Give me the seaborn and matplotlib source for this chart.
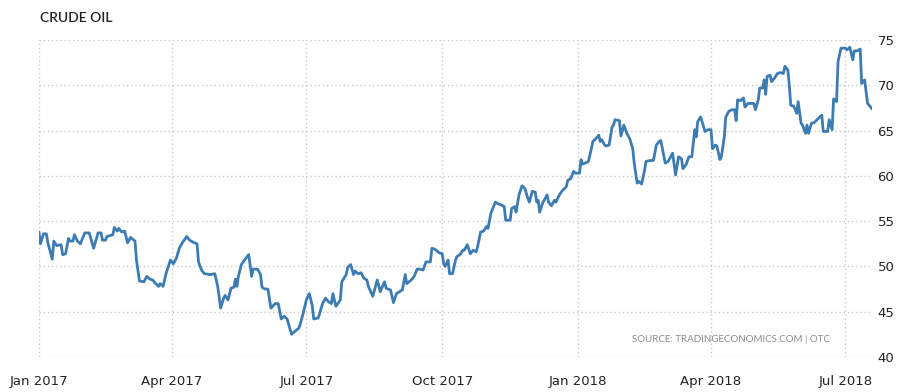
import numpy as np
import pandas as pd
import matplotlib
matplotlib.use("Agg")
import matplotlib.pyplot as plt
import seaborn as sns

# ---- data ----
start_date = "2017-01-01"
day_offsets = [
    0, 1, 3, 5, 6, 9, 10, 12, 15, 16, 18, 20, 21, 23, 24, 26, 28, 31, 34, 37,
    40, 42, 43, 45, 46, 50, 51, 53, 54, 56, 58, 60, 62, 65, 66, 68, 71, 73, 75, 77,
    79, 81, 82, 84, 86, 89, 91, 93, 95,
    97, 100, 102, 104, 107, 108, 110, 112, 116, 119, 121, 123, 125, 126, 128, 130, 132, 133, 134, 135,
    137, 140, 142, 144, 145, 148, 150, 151, 153, 155, 157, 160, 162, 164, 166, 168, 171, 173, 176, 177,
    179, 181, 183, 185, 186, 189, 190,
    192, 194, 196, 198, 199, 201, 204, 205, 208, 209, 211, 213, 214, 216, 218, 220, 222, 223, 226, 229,
    230, 231, 234, 235, 238, 239, 240, 242, 244, 246, 248, 249, 252, 254, 256, 258, 260, 262, 265, 266,
    268, 271, 273, 274, 275, 277, 278, 280, 282,
    283, 285, 287, 288, 290, 292, 294, 296, 297, 299, 301, 303, 304, 306, 309, 311, 313, 315, 316, 319,
    320, 322, 323, 325, 327, 329, 331, 332, 334, 336, 337, 338, 339, 341, 342, 344, 345, 347, 349, 350,
    352, 354, 357, 358, 360, 362, 363, 366, 367, 368, 371, 372, 374, 375,
    377, 379, 380, 381, 383, 384, 386, 388, 389, 390, 393, 394, 396, 398, 400, 402, 403, 405, 406, 408,
    410, 411, 414, 416, 418, 420, 421, 424, 426, 429, 431, 433, 435, 436, 438, 440, 442, 444, 445, 446,
    448, 450, 451, 453, 455, 456, 458, 459, 461, 462, 464, 465, 467, 469, 471, 472, 473,
    475, 477, 478, 480, 482, 484, 485, 487, 488, 490, 491, 492, 493, 495, 496, 498, 500, 502, 504, 505,
    507, 508, 509, 511, 513, 514, 516, 517, 519, 520, 521, 523, 525, 528, 530, 531, 534, 535, 537, 538,
    540, 541, 543, 546, 547, 549, 551, 552, 554, 556, 557, 558, 559, 561, 562, 564,
]
price = [
    53.8, 52.5, 53.6, 53.6, 52.6, 50.8, 52.8, 52.3, 52.4, 51.3, 51.4, 53.1, 52.8, 52.8, 53.5, 52.8, 52.5, 53.7, 53.7, 52.0,
    53.7, 53.7, 52.9, 52.9, 53.3, 53.5, 54.3, 53.9, 54.2, 53.8, 53.9, 52.6, 53.2, 52.8, 50.7, 48.4, 48.3, 48.9, 48.6, 48.5,
    48.1, 47.8, 48.1, 47.8, 49.2, 50.7, 50.3, 50.9, 52.0,
    52.6, 53.3, 52.9, 52.7, 52.5, 50.5, 49.6, 49.2, 49.1, 49.2, 47.8, 45.4, 46.5, 46.8, 46.3, 47.6, 47.7, 48.6, 47.8, 48.9,
    50.2, 50.9, 51.3, 48.9, 49.7, 49.7, 49.1, 47.7, 47.5, 47.5, 45.4, 45.9, 45.9, 44.2, 44.5, 44.2, 42.5, 42.8, 43.2, 43.7,
    44.9, 46.3, 47.0, 45.7, 44.2, 44.3, 44.8,
    45.9, 46.5, 46.1, 45.9, 47.0, 45.6, 46.3, 48.3, 49.1, 49.9, 50.2, 49.1, 49.5, 49.2, 49.3, 48.7, 48.5, 47.8, 46.7, 48.5,
    47.9, 47.2, 48.3, 47.6, 47.4, 46.7, 46.0, 47.0, 47.2, 47.4, 49.1, 48.1, 48.5, 48.9, 49.7, 49.7, 49.6, 50.5, 50.5, 52.0,
    51.9, 51.5, 51.4, 50.3, 50.0, 50.7, 49.2, 49.2, 50.7,
    51.1, 51.3, 51.8, 51.8, 52.4, 51.4, 51.8, 51.6, 52.2, 53.8, 53.9, 54.4, 54.2, 55.9, 57.1, 56.9, 56.8, 56.6, 55.1, 55.1,
    56.4, 56.6, 56.0, 57.9, 58.9, 58.6, 57.5, 57.1, 58.3, 58.2, 57.1, 57.3, 56.0, 57.0, 57.3, 57.9, 57.1, 56.7, 57.3, 57.1,
    57.8, 58.3, 58.8, 59.5, 59.7, 60.5, 60.3, 60.3, 61.8, 61.3, 61.5, 61.6, 63.0, 63.8,
    64.1, 64.5, 63.8, 64.0, 63.4, 63.3, 63.4, 65.4, 65.6, 66.2, 66.1, 64.4, 65.6, 64.7, 64.1, 63.0, 61.4, 59.2, 59.4, 59.1,
    60.6, 61.6, 61.7, 61.7, 63.4, 63.8, 63.9, 61.4, 61.6, 62.5, 60.1, 62.1, 61.9, 60.8, 61.2, 62.1, 62.1, 65.1, 64.3, 66.0,
    66.5, 65.4, 64.9, 65.1, 65.1, 63.0, 63.4, 63.3, 61.8, 62.1, 64.3, 66.5, 67.1, 67.3, 67.3, 66.1, 68.4,
    68.3, 68.6, 67.6, 68.0, 68.0, 68.0, 67.3, 68.4, 69.7, 69.7, 70.6, 69.0, 71.0, 71.1, 70.4, 70.8, 71.3, 71.4, 71.3, 72.1,
    71.7, 70.0, 67.8, 67.7, 66.9, 68.2, 65.8, 65.6, 64.7, 65.6, 64.7, 65.8, 65.9, 66.4, 66.7, 64.9, 64.9, 66.2, 65.1, 68.5,
    68.2, 72.6, 74.1, 74.1, 73.9, 74.2, 72.8, 73.8, 73.8, 74.0, 70.2, 70.4, 70.6, 68.0, 67.8, 67.4,
]
x_tick_dates = ["2017-01-01", "2017-04-01", "2017-07-01", "2017-10-01",
                "2018-01-01", "2018-04-01", "2018-07-01"]
x_tick_labels = ["Jan 2017", "Apr 2017", "Jul 2017", "Oct 2017",
                 "Jan 2018", "Apr 2018", "Jul 2018"]
y_ticks = [40, 45, 50, 55, 60, 65, 70, 75]
title = "CRUDE OIL"
source = "SOURCE: TRADINGECONOMICS.COM | OTC"

dates = pd.to_datetime(start_date) + pd.to_timedelta(day_offsets, unit="D")
df = pd.DataFrame({"date": dates, "price": price})

sns.set_style("white")
plt.rcParams["font.family"] = ["DejaVu Sans"]

fig = plt.figure(figsize=(9, 3.92), dpi=100)
ax = fig.add_axes([39 / 900, 1 - 357 / 392, (872 - 39) / 900, (357 - 40) / 392])

sns.lineplot(data=df, x="date", y="price", ax=ax, color="#3d7bb3", linewidth=2.0)

ax.set_xlim(pd.Timestamp("2017-01-01"), pd.Timestamp(start_date) + pd.Timedelta(days=564))
ax.set_ylim(40, 75)
ax.set_xticks(pd.to_datetime(x_tick_dates))
ax.set_xticklabels(x_tick_labels)
ax.set_yticks(y_ticks)
ax.set_yticklabels([str(v) for v in y_ticks])
ax.yaxis.tick_right()
ax.set_xlabel("")
ax.set_ylabel("")
for s in ax.spines.values():
    s.set_visible(False)
ax.grid(True, linestyle=(0, (1, 2)), color="#c9c9c9", linewidth=1.0)
ax.set_axisbelow(True)
ax.tick_params(axis="x", length=7, color="#d0d0d0", width=1, pad=6,
               labelsize=9.5, labelcolor="#222222", direction="out")
ax.tick_params(axis="y", length=0, pad=4, labelsize=9.5, labelcolor="#222222")

fig.text(40 / 900, 1 - 18 / 392, title, fontsize=10, color="#222222", fontweight="semibold",
         family=["Lato", "DejaVu Sans"], va="center", ha="left")
fig.text(830 / 900, 1 - 340 / 392, source, fontsize=7, color="#8a8a8a",
         family=["Lato", "DejaVu Sans"], va="center", ha="right")

fig.savefig("out.png", dpi=100)
